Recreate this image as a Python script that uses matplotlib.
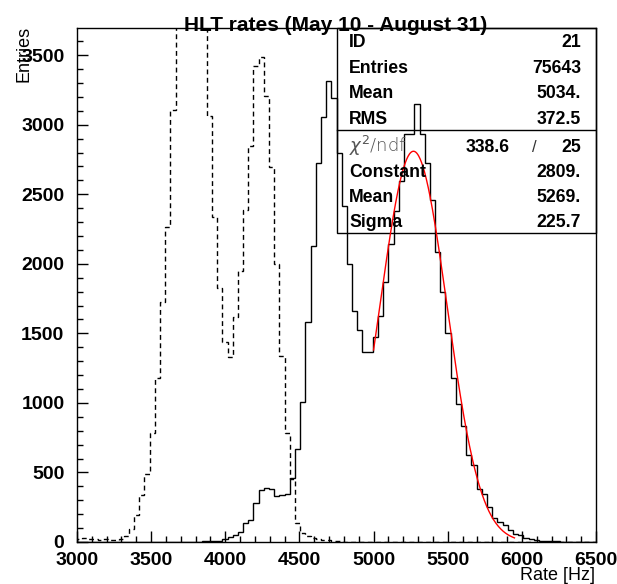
import numpy as np
import matplotlib
matplotlib.use("Agg")
import matplotlib.pyplot as plt
from matplotlib.patches import Rectangle

# ---------------- data ----------------
bin_lo, bin_hi, n_bins = 3000.0, 6500.0, 100

# dashed histogram (earlier period) - values above the frame are clipped
dashed_counts = [
    25, 30, 18, 18, 15, 18, 15, 15, 20, 40,
    90, 191, 335, 491, 783, 1178, 1726, 2266, 3103, 3900,
    4300, 4600, 4500, 4200, 3900, 3065, 2335, 1825, 1435, 1330,
    1617, 1950, 2390, 2850, 3425, 3490, 3206, 2695, 2000, 1340,
    782, 455, 140, 68, 45, 30, 20, 15, 12, 8,
    5, 3, 3, 3, 3, 3, 0, 0, 0, 0,
    0, 0, 0, 0, 0, 0, 0, 0, 0, 0,
    0, 0, 0, 0, 0, 0, 0, 0, 0, 0,
    0, 0, 0, 0, 0, 0, 0, 0, 0, 0,
    0, 0, 0, 0, 0, 0, 0, 0, 0, 0,
]

# solid histogram (ID 21)
solid_counts = [
    0, 0, 0, 0, 0, 0, 0, 0, 0, 0,
    0, 0, 0, 0, 0, 0, 0, 0, 0, 0,
    0, 0, 0, 0, 5, 5, 5, 8, 18, 33,
    52, 72, 138, 155, 278, 372, 385, 383, 328, 338,
    345, 458, 667, 1010, 1580, 2130, 2725, 3058, 3316, 3190,
    2799, 2416, 2000, 1662, 1525, 1363, 1363, 1471, 1627, 1866,
    2145, 2381, 2596, 2936, 2936, 3146, 2936, 2728, 2455, 2082,
    1795, 1505, 1180, 995, 835, 625, 550, 378, 347, 251,
    170, 143, 120, 84, 55, 53, 31, 22, 15, 8,
    8, 8, 6, 3, 3, 3, 3, 3, 3, 3,
]

# Gaussian fit parameters (from stats box)
fit_const, fit_mean, fit_sigma = 2809.0, 5269.0, 225.7
fit_range = (5000.0, 5950.0)

stats_top = [("ID", "21"), ("Entries", "75643"), ("Mean", "5034."), ("RMS", "372.5")]
chi2_value, ndf_value = "338.6", "25"
stats_fit = [("Constant", "2809."), ("Mean", "5269."), ("Sigma", "225.7")]

title = "HLT rates (May 10 - August 31)"
xlabel = "Rate [Hz]"
ylabel = "Entries"
xticks = [3000, 3500, 4000, 4500, 5000, 5500, 6000, 6500]
yticks = [0, 500, 1000, 1500, 2000, 2500, 3000, 3500]
ymax = 3695

# ---------------- figure ----------------
plt.rcParams["font.family"] = ["Liberation Sans", "DejaVu Sans"]
W, H = 617, 584
fig = plt.figure(figsize=(W / 100, H / 100), dpi=100)
L, R, T, B = 77, 596, 28, 542
ax = fig.add_axes([L / W, 1 - B / H, (R - L) / W, (B - T) / H])

edges = np.linspace(bin_lo, bin_hi, n_bins + 1)
ax.stairs(dashed_counts, edges, color="black", lw=1.0, linestyle=(0, (3.5, 2.5)))
ax.stairs(solid_counts, edges, color="black", lw=1.0)

xf = np.linspace(fit_range[0], fit_range[1], 300)
yf = fit_const * np.exp(-0.5 * ((xf - fit_mean) / fit_sigma) ** 2)
ax.plot(xf, yf, color="red", lw=1.0)

ax.set_xlim(bin_lo, bin_hi)
ax.set_ylim(0, ymax)
ax.set_xticks(xticks)
ax.set_yticks(yticks)
ax.set_xticks(np.arange(3000, 6501, 100), minor=True)
ax.set_yticks(np.arange(0, ymax, 100), minor=True)
ax.tick_params(which="both", direction="in", top=False, right=False, width=1.0)
ax.tick_params(which="major", length=8)
ax.tick_params(which="minor", length=4.5)
ax.tick_params(axis="x", which="major", pad=7)
ax.tick_params(axis="y", which="major", pad=9)
for lab in ax.get_xticklabels() + ax.get_yticklabels():
    lab.set_fontweight("bold")
    lab.set_fontsize(14)
for sp in ax.spines.values():
    sp.set_linewidth(1.0)

# title / labels
fig.text(336 / W, 1 - 31 / H, title, ha="center", va="baseline",
         fontsize=15, fontweight="bold")
fig.text(595 / W, 1 - 580 / H, xlabel, ha="right", va="baseline", fontsize=13)
fig.text(24 / W, 1 - 26 / H, ylabel, ha="center", va="top", rotation=90, fontsize=13)

# stats box (axes fraction coords)
def fy(ypx):
    return (B - ypx) / (B - T)

def fx(xpx):
    return (xpx - L) / (R - L)

box = Rectangle((fx(336.7), fy(233.3)), 1 - fx(336.7), 1 - fy(233.3),
                transform=ax.transAxes, fill=False, lw=1.0, ec="black", clip_on=False)
ax.add_patch(box)
ax.plot([fx(336.7), 1], [fy(130), fy(130)], transform=ax.transAxes, color="black", lw=1.0)

base_top = [46.7, 72.7, 98.3, 124.0]
for (lab, val), yb in zip(stats_top, base_top):
    ax.text(fx(349), fy(yb), lab, transform=ax.transAxes, ha="left", va="baseline",
            fontsize=12.7, fontweight="bold")
    ax.text(fx(581), fy(yb), val, transform=ax.transAxes, ha="right", va="baseline",
            fontsize=12.7, fontweight="bold")

yb = 151.7
ax.text(fx(349), fy(yb), r"$\chi^{2}$/ndf", transform=ax.transAxes, ha="left",
        va="baseline", fontsize=13, color="#555555", family="DejaVu Sans", fontweight="light")
ax.text(fx(510), fy(yb), chi2_value, transform=ax.transAxes, ha="right", va="baseline",
        fontsize=12.7, fontweight="bold")
ax.text(fx(534), fy(yb), "/", transform=ax.transAxes, ha="center", va="baseline",
        fontsize=12, color="#333333")
ax.text(fx(581), fy(yb), ndf_value, transform=ax.transAxes, ha="right", va="baseline",
        fontsize=12.7, fontweight="bold")

base_fit = [176.7, 201.7, 226.7]
for (lab, val), yb in zip(stats_fit, base_fit):
    ax.text(fx(349), fy(yb), lab, transform=ax.transAxes, ha="left", va="baseline",
            fontsize=12.7, fontweight="bold")
    ax.text(fx(581), fy(yb), val, transform=ax.transAxes, ha="right", va="baseline",
            fontsize=12.7, fontweight="bold")

fig.savefig("out.png", dpi=100)
